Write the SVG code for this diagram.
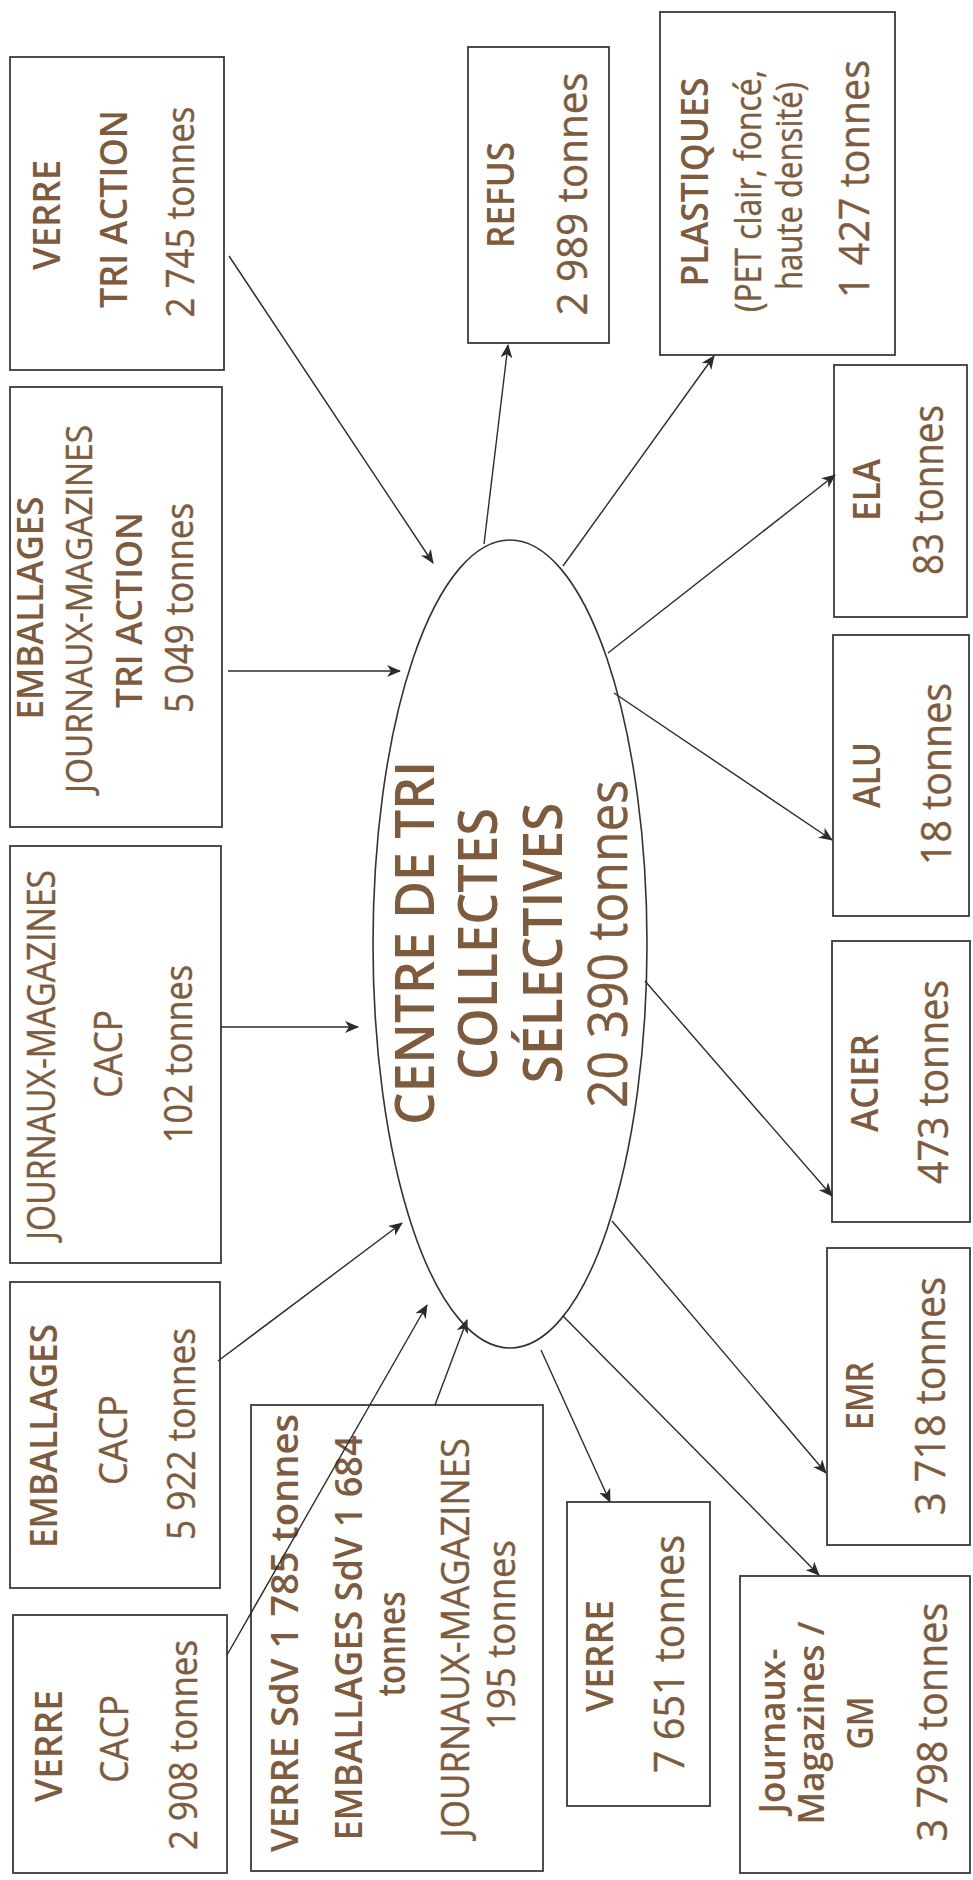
<svg xmlns="http://www.w3.org/2000/svg" width="973" height="1880" viewBox="0 0 973 1880">
<style>
.box{fill:#fff;stroke:#3a3a3a;stroke-width:1.8}
.ell{fill:#fff;stroke:#333;stroke-width:1.6}
.t{font-family:"Open Sans","Liberation Sans",sans-serif;fill:#7D5B3C;text-anchor:middle;stroke:#7D5B3C;stroke-width:0.4}
.b{font-weight:600;stroke-width:0}
.s36{font-size:36px}.s38{font-size:38px}.s42{font-size:42px}.s54{font-size:54px}
.c{stroke:#2b2b2b;stroke-width:1.4;fill:none;marker-end:url(#ah)}
</style>
<defs>
<marker id="ah" markerUnits="userSpaceOnUse" markerWidth="14" markerHeight="12" viewBox="0 0 14 12" refX="13" refY="6" orient="auto">
<path d="M0,0 L14,6 L0,12 L4,6 z" fill="#2b2b2b"/>
</marker>
</defs>
<rect width="973" height="1880" fill="#fff"/>

<g id="verre-tri-action">
<rect class="box" x="10" y="57" width="214" height="313"/>
<text class="t b s38" transform="translate(60,215) rotate(-90)" textLength="110" lengthAdjust="spacingAndGlyphs">VERRE</text>
<text class="t b s38" transform="translate(127,209) rotate(-90)" textLength="198" lengthAdjust="spacingAndGlyphs">TRI ACTION</text>
<text class="t s38" transform="translate(194,212) rotate(-90)" textLength="211" lengthAdjust="spacingAndGlyphs">2 745 tonnes</text>
</g>

<g id="emballages-tri-action">
<rect class="box" x="10" y="387" width="212" height="440"/>
<text class="t b s36" transform="translate(43,608) rotate(-90)" textLength="223" lengthAdjust="spacingAndGlyphs">EMBALLAGES</text>
<text class="t s36" transform="translate(92,609) rotate(-90)" textLength="368" lengthAdjust="spacingAndGlyphs">JOURNAUX-MAGAZINES</text>
<text class="t b s36" transform="translate(142,610) rotate(-90)" textLength="196" lengthAdjust="spacingAndGlyphs">TRI ACTION</text>
<text class="t s38" transform="translate(193,608) rotate(-90)" textLength="210" lengthAdjust="spacingAndGlyphs">5 049 tonnes</text>
</g>

<g id="journaux-cacp">
<rect class="box" x="10" y="846" width="211" height="417"/>
<text class="t s38" transform="translate(55,1055) rotate(-90)" textLength="370" lengthAdjust="spacingAndGlyphs">JOURNAUX-MAGAZINES</text>
<text class="t s38" transform="translate(122,1054) rotate(-90)" textLength="88" lengthAdjust="spacingAndGlyphs">CACP</text>
<text class="t s38" transform="translate(192,1054) rotate(-90)" textLength="178" lengthAdjust="spacingAndGlyphs">102 tonnes</text>
</g>

<g id="emballages-cacp">
<rect class="box" x="10" y="1282" width="210" height="306"/>
<text class="t b s38" transform="translate(57,1436) rotate(-90)" textLength="224" lengthAdjust="spacingAndGlyphs">EMBALLAGES</text>
<text class="t s38" transform="translate(127,1440) rotate(-90)" textLength="90" lengthAdjust="spacingAndGlyphs">CACP</text>
<text class="t s38" transform="translate(195,1434) rotate(-90)" textLength="212" lengthAdjust="spacingAndGlyphs">5 922 tonnes</text>
</g>

<g id="verre-cacp">
<rect class="box" x="13" y="1615" width="214" height="258"/>
<text class="t b s38" transform="translate(62,1746) rotate(-90)" textLength="112" lengthAdjust="spacingAndGlyphs">VERRE</text>
<text class="t s38" transform="translate(128,1739) rotate(-90)" textLength="88" lengthAdjust="spacingAndGlyphs">CACP</text>
<text class="t s38" transform="translate(197,1745) rotate(-90)" textLength="210" lengthAdjust="spacingAndGlyphs">2 908 tonnes</text>
</g>

<g id="sdv">
<rect class="box" x="251" y="1405" width="292" height="466"/>
<text class="t b s38" transform="translate(298,1633) rotate(-90)" textLength="438" lengthAdjust="spacingAndGlyphs">VERRE SdV 1 785 tonnes</text>
<text class="t b s38" transform="translate(362,1638) rotate(-90)" textLength="405" lengthAdjust="spacingAndGlyphs">EMBALLAGES SdV 1 684</text>
<text class="t b s38" transform="translate(405,1644) rotate(-90)" textLength="105" lengthAdjust="spacingAndGlyphs">tonnes</text>
<text class="t s38" transform="translate(469,1638) rotate(-90)" textLength="400" lengthAdjust="spacingAndGlyphs">JOURNAUX-MAGAZINES</text>
<text class="t s38" transform="translate(515,1635) rotate(-90)" textLength="190" lengthAdjust="spacingAndGlyphs">195 tonnes</text>
</g>

<g id="refus">
<rect class="box" x="468" y="47" width="141" height="296"/>
<text class="t b s38" transform="translate(514,195) rotate(-90)" textLength="106" lengthAdjust="spacingAndGlyphs">REFUS</text>
<text class="t s42" transform="translate(587,194) rotate(-90)" textLength="243" lengthAdjust="spacingAndGlyphs">2 989 tonnes</text>
</g>

<g id="plastiques">
<rect class="box" x="660" y="12" width="235" height="343"/>
<text class="t b s38" transform="translate(708,182) rotate(-90)" textLength="209" lengthAdjust="spacingAndGlyphs">PLASTIQUES</text>
<text class="t s36" transform="translate(761,191) rotate(-90)" textLength="242" lengthAdjust="spacingAndGlyphs">(PET clair, foncé,</text>
<text class="t s36" transform="translate(802,186) rotate(-90)" textLength="208" lengthAdjust="spacingAndGlyphs">haute densité)</text>
<text class="t s42" transform="translate(869,179) rotate(-90)" textLength="238" lengthAdjust="spacingAndGlyphs">1 427 tonnes</text>
</g>

<g id="ela">
<rect class="box" x="834" y="365" width="133" height="252"/>
<text class="t b s38" transform="translate(880,490) rotate(-90)" textLength="62" lengthAdjust="spacingAndGlyphs">ELA</text>
<text class="t s42" transform="translate(943,490) rotate(-90)" textLength="170" lengthAdjust="spacingAndGlyphs">83 tonnes</text>
</g>

<g id="alu">
<rect class="box" x="833" y="635" width="136" height="281"/>
<text class="t b s38" transform="translate(880,775) rotate(-90)" textLength="66" lengthAdjust="spacingAndGlyphs">ALU</text>
<text class="t s42" transform="translate(951,774) rotate(-90)" textLength="182" lengthAdjust="spacingAndGlyphs">18 tonnes</text>
</g>

<g id="acier">
<rect class="box" x="832" y="941" width="138" height="281"/>
<text class="t b s38" transform="translate(878,1083) rotate(-90)" textLength="98" lengthAdjust="spacingAndGlyphs">ACIER</text>
<text class="t s42" transform="translate(948,1082) rotate(-90)" textLength="204" lengthAdjust="spacingAndGlyphs">473 tonnes</text>
</g>

<g id="emr">
<rect class="box" x="827" y="1248" width="143" height="297"/>
<text class="t b s38" transform="translate(873,1396) rotate(-90)" textLength="68" lengthAdjust="spacingAndGlyphs">EMR</text>
<text class="t s42" transform="translate(945,1396) rotate(-90)" textLength="238" lengthAdjust="spacingAndGlyphs">3 718 tonnes</text>
</g>

<g id="verre-out">
<rect class="box" x="567" y="1502" width="143" height="304"/>
<text class="t b s38" transform="translate(613,1656) rotate(-90)" textLength="112" lengthAdjust="spacingAndGlyphs">VERRE</text>
<text class="t s42" transform="translate(684,1654) rotate(-90)" textLength="238" lengthAdjust="spacingAndGlyphs">7 651 tonnes</text>
</g>

<g id="journaux-gm">
<rect class="box" x="740" y="1576" width="230" height="297"/>
<text class="t b s36" transform="translate(785,1731) rotate(-90)" textLength="165" lengthAdjust="spacingAndGlyphs">Journaux-</text>
<text class="t b s36" transform="translate(824,1723) rotate(-90)" textLength="203" lengthAdjust="spacingAndGlyphs">Magazines /</text>
<text class="t b s36" transform="translate(873,1723) rotate(-90)" textLength="53" lengthAdjust="spacingAndGlyphs">GM</text>
<text class="t s42" transform="translate(947,1722) rotate(-90)" textLength="239" lengthAdjust="spacingAndGlyphs">3 798 tonnes</text>
</g>

<g id="centre-de-tri">
<ellipse class="ell" cx="510" cy="944" rx="137" ry="404"/>
<text class="t b s54" transform="translate(434,943) rotate(-90)" textLength="364" lengthAdjust="spacingAndGlyphs">CENTRE DE TRI</text>
<text class="t b s54" transform="translate(497,944) rotate(-90)" textLength="272" lengthAdjust="spacingAndGlyphs">COLLECTES</text>
<text class="t b s54" transform="translate(562,943) rotate(-90)" textLength="281" lengthAdjust="spacingAndGlyphs">SÉLECTIVES</text>
<text class="t s54" transform="translate(627,944) rotate(-90)" textLength="328" lengthAdjust="spacingAndGlyphs">20 390 tonnes</text>
</g>

<g id="connectors">
<line class="c" x1="229" y1="256" x2="433" y2="563"/>
<line class="c" x1="228" y1="671" x2="400" y2="671"/>
<line class="c" x1="221" y1="1027" x2="358" y2="1027"/>
<line class="c" x1="218" y1="1361" x2="402" y2="1223"/>
<line class="c" x1="227" y1="1655" x2="427" y2="1305"/>
<line class="c" x1="435" y1="1405" x2="467" y2="1320"/>
<line class="c" x1="484" y1="544" x2="508" y2="345"/>
<line class="c" x1="563" y1="566" x2="714" y2="356"/>
<line class="c" x1="608" y1="653" x2="835" y2="475"/>
<line class="c" x1="614" y1="693" x2="832" y2="840"/>
<line class="c" x1="645" y1="981" x2="832" y2="1196"/>
<line class="c" x1="612" y1="1221" x2="826" y2="1473"/>
<line class="c" x1="563" y1="1316" x2="819" y2="1575"/>
<line class="c" x1="541" y1="1350" x2="610" y2="1502"/>
</g>
</svg>
